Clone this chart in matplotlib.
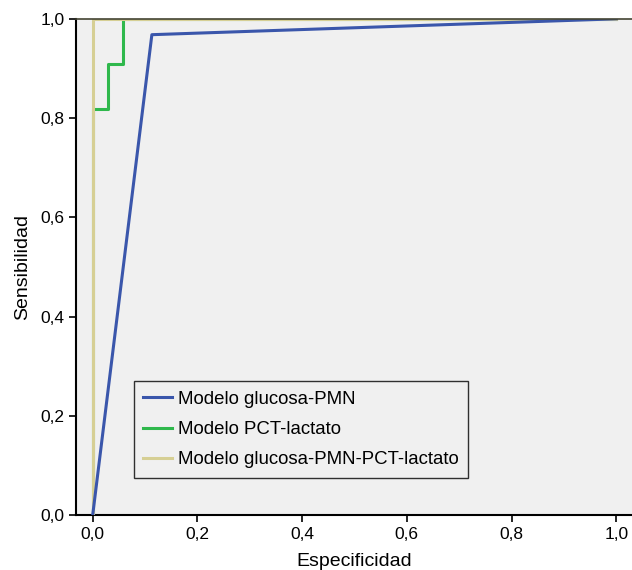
import matplotlib
matplotlib.use("Agg")
import matplotlib.pyplot as plt
from matplotlib.ticker import FuncFormatter

plt.rcParams['font.family'] = ['Liberation Sans', 'DejaVu Sans']

# Data (1 - specificity, sensitivity)
blue_x = [0.0, 0.113, 1.0]
blue_y = [0.0, 0.968, 1.0]
green_x = [0.0, 0.0, 0.0286, 0.0286, 0.057, 0.057, 1.0]
green_y = [0.0, 0.818, 0.818, 0.909, 0.909, 1.0, 1.0]
beige_x = [0.0, 0.0, 1.0]
beige_y = [0.0, 1.0, 1.0]
labels = ["Modelo glucosa-PMN", "Modelo PCT-lactato", "Modelo glucosa-PMN-PCT-lactato"]
ticks = [0.0, 0.2, 0.4, 0.6, 0.8, 1.0]

fig = plt.figure(figsize=(6.32, 5.70), dpi=100)
ax = fig.add_axes([0.121, 0.0965, 0.879, 0.8705])
ax.set_facecolor('#f0f0f0')

ax.plot(green_x, green_y, color='#2fb84c', lw=2.2, label=labels[1], zorder=4)
ax.plot(beige_x, beige_y, color='#d6cf94', lw=2.2, label=labels[2], zorder=5)
ax.plot(blue_x, blue_y, color='#3a56ab', lw=2.2, label=labels[0], zorder=6)

ax.set_xlim(-0.031, 1.03)
ax.set_ylim(0, 1.0)
ax.set_xticks(ticks)
ax.set_yticks(ticks)
fmt = FuncFormatter(lambda v, p: f"{v:.1f}".replace('.', ','))
ax.xaxis.set_major_formatter(fmt)
ax.yaxis.set_major_formatter(fmt)
ax.tick_params(axis='both', direction='out', length=5, width=1.2, labelsize=12.5, colors='black')

for s in ['left', 'bottom']:
    ax.spines[s].set_linewidth(1.5)
    ax.spines[s].set_color('black')
ax.spines['top'].set_color('#444433')
ax.spines['top'].set_linewidth(1.2)
ax.spines['top'].set_zorder(7)
ax.spines['right'].set_visible(False)

ax.set_xlabel("Especificidad", fontsize=14, labelpad=8)
ax.set_ylabel("Sensibilidad", fontsize=14, labelpad=7)

handles, labs = ax.get_legend_handles_labels()
hmap = dict(zip(labs, handles))
leg = ax.legend([hmap[l] for l in labels], labels,
                loc='upper left', bbox_to_anchor=(0.1035, 0.2695), fontsize=13.4,
                frameon=True, fancybox=False, edgecolor='black', facecolor='#f0f0f0',
                handlelength=1.55, handletextpad=0.3, borderpad=0.5, labelspacing=0.72,
                borderaxespad=0)
leg.get_frame().set_linewidth(1.0)
leg.set_zorder(10)

fig.savefig("out.png", dpi=100)
